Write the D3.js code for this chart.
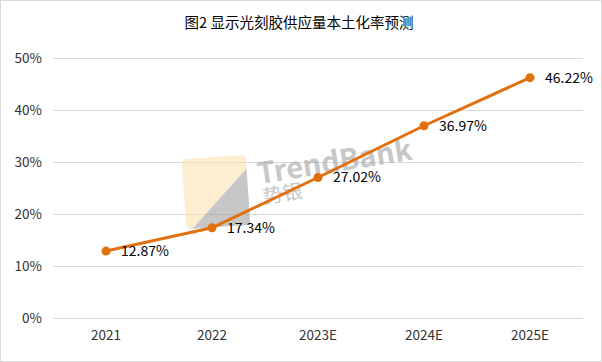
<!DOCTYPE html>
<html>
<head>
<meta charset="utf-8">
<script src="https://cdn.jsdelivr.net/npm/d3@7/dist/d3.min.js"></script>
<style>
  body { margin: 0; background: #fff; }
  text { font-family: "Microsoft YaHei", "Noto Sans CJK SC", sans-serif; }
</style>
</head>
<body>
<div id="chart"></div>
<script>
// data
var years = ['2021', '2022', '2023E', '2024E', '2025E'];
var rates = [12.87, 17.34, 27.02, 36.97, 46.22];
var yTicks = [0, 10, 20, 30, 40, 50];
var title = '图2 显示光刻胶供应量本土化率预测';

var W = 602, H = 362;
var margin = {top: 58, right: 19, bottom: 44, left: 53};
var width = W - margin.left - margin.right;
var height = H - margin.top - margin.bottom;
var lineColor = '#E2700F';

var svg = d3.select('#chart').append('svg')
  .attr('width', W)
  .attr('height', H);

// outer frame
svg.append('rect')
  .attr('x', 0.5).attr('y', 0.5)
  .attr('width', W - 1).attr('height', H - 1)
  .attr('fill', '#fff')
  .attr('stroke', '#d9d9d9');

svg.append('text')
  .attr('x', W / 2 - 2).attr('y', 28)
  .attr('text-anchor', 'middle')
  .style('font-size', '14.5px')
  .attr('fill', '#000')
  .text(title);

var g = svg.append('g')
  .attr('transform', `translate(${margin.left},${margin.top})`);

var xScale = d3.scaleBand()
  .domain(years)
  .range([0, width]);

var yScale = d3.scaleLinear()
  .domain([0, 50])
  .range([height, 0]);

// grid
var yGrid = d3.axisLeft(yScale)
  .tickValues(yTicks)
  .tickSize(-width)
  .tickFormat('');
g.append('g')
  .attr('class', 'grid')
  .call(yGrid)
  .call(s => s.select('.domain').remove())
  .call(s => s.selectAll('line').attr('stroke', '#d9d9d9'));

// y axis labels
var yAxis = d3.axisLeft(yScale)
  .tickValues(yTicks)
  .tickSize(0)
  .tickPadding(11)
  .tickFormat(d => d + '%');
g.append('g')
  .call(yAxis)
  .call(s => s.select('.domain').remove())
  .call(s => s.selectAll('text')
    .style('font-size', '13.5px')
    .attr('fill', '#333'));

// x axis labels
var xAxis = d3.axisBottom(xScale).tickSize(0).tickPadding(12);
g.append('g')
  .attr('transform', `translate(0,${height})`)
  .call(xAxis)
  .call(s => s.select('.domain').remove())
  .call(s => s.selectAll('text')
    .style('font-size', '13.5px')
    .attr('fill', '#333'));

// watermark
var wm = g.append('g').attr('opacity', 0.55);
var wx = 131, wy = 99;
wm.append('rect')
  .attr('x', wx).attr('y', wy).attr('width', 64).attr('height', 70)
  .attr('rx', 5)
  .attr('fill', '#fde0ad')
  .attr('transform', `rotate(-4,${wx + 32},${wy + 35})`);
wm.append('path')
  .attr('d', `M${wx + 64},${wy + 14} L${wx + 64},${wy + 70} L${wx + 6},${wy + 70} Z`)
  .attr('fill', '#9a9a9a')
  .attr('transform', `rotate(-4,${wx + 32},${wy + 35})`);
wm.append('text')
  .attr('x', 206).attr('y', 126)
  .attr('transform', 'rotate(-9,206,126)')
  .style('font-size', '29px')
  .style('font-weight', 'bold')
  .attr('fill', '#9a9a9a')
  .text('TrendBank');
wm.append('text')
  .attr('x', 211).attr('y', 146)
  .attr('transform', 'rotate(-9,211,146)')
  .style('font-size', '20px')
  .attr('fill', '#9a9a9a')
  .text('势银');

var pts = years.map((y, i) => ({year: y, v: rates[i]}));
var cx = d => xScale(d.year) + xScale.bandwidth() / 2;

var line = d3.line()
  .x(cx)
  .y(d => yScale(d.v));

g.append('path')
  .datum(pts)
  .attr('fill', 'none')
  .attr('stroke', lineColor)
  .attr('stroke-width', 3)
  .attr('stroke-linejoin', 'round')
  .attr('d', line);

g.selectAll('circle.pt')
  .data(pts)
  .enter().append('circle')
  .attr('class', 'pt')
  .attr('cx', cx)
  .attr('cy', d => yScale(d.v))
  .attr('r', 4.5)
  .attr('fill', lineColor);

g.selectAll('text.lbl')
  .data(pts)
  .enter().append('text')
  .attr('class', 'lbl')
  .attr('x', d => cx(d) + 15)
  .attr('y', d => yScale(d.v) + 5)
  .style('font-size', '14px')
  .attr('fill', '#000')
  .text(d => d.v.toFixed(2) + '%');
</script>
</body>
</html>
